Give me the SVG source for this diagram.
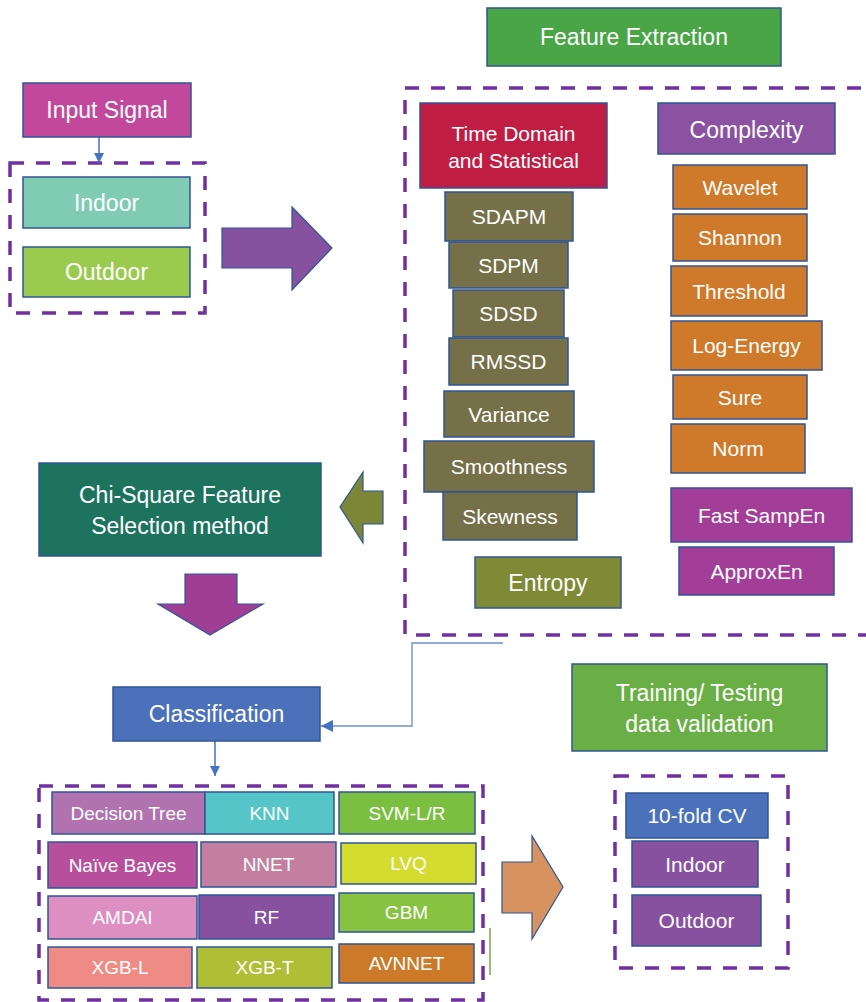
<svg xmlns="http://www.w3.org/2000/svg" width="866" height="1002" viewBox="0 0 866 1002">
<defs>
<style>
.b{stroke:#2f5597;stroke-width:1.5}
.d{fill:none;stroke:#7030a0;stroke-width:3.5;stroke-dasharray:14 12}
.t{font-family:"Liberation Sans",Arial,sans-serif;fill:#ffffff;text-anchor:middle;dominant-baseline:central}
.L{font-size:23px}
.M{font-size:21px}
.S{font-size:19px}
.ar{stroke:#2f5597;stroke-width:1.2}
</style>
<marker id="ah" viewBox="0 0 10 10" refX="10" refY="5" markerWidth="10" markerHeight="10" markerUnits="userSpaceOnUse" orient="auto">
<path d="M0,0 L10,5 L0,10 z" fill="#4472c4"/>
</marker>
<marker id="ah2" viewBox="0 0 10 10" refX="10" refY="5" markerWidth="12" markerHeight="12" markerUnits="userSpaceOnUse" orient="auto">
<path d="M0,0 L10,5 L0,10 z" fill="#4472c4"/>
</marker>
</defs>
<rect width="866" height="1002" fill="#ffffff"/>

<g id="containers">
<rect class="d" x="10" y="163" width="195" height="150"/>
<rect class="d" x="405" y="88" width="480" height="547"/>
<rect class="d" x="39" y="786" width="444" height="214"/>
<rect class="d" x="615" y="776" width="173" height="192"/>
</g>

<g id="connectors">
<line x1="99" y1="137" x2="99" y2="163" stroke="#4472c4" stroke-width="1.5" marker-end="url(#ah)"/>
<polyline points="503,643 412,643 412,726 321,726" fill="none" stroke="#8faadc" stroke-width="1.8" marker-end="url(#ah2)"/>
<line x1="215" y1="741" x2="215" y2="776" stroke="#4472c4" stroke-width="1.5" marker-end="url(#ah)"/>
<line x1="490" y1="928" x2="490" y2="975" stroke="#70ad47" stroke-width="1.5"/>
<polygon class="ar" points="222,228 292,228 292,207 332,248 292,290 292,268 222,268" fill="#86519f"/>
<polygon class="ar" points="383,491 363,491 363,472 340,507 363,543 363,524 383,524" fill="#7b8736"/>
<polygon class="ar" points="185,574 237,574 237,604 263,604 210,635 158,604 185,604" fill="#a03e96"/>
<polygon class="ar" points="502,862 532,862 532,836 563,887 532,939 532,913 502,913" fill="#d6925f"/>
</g>

<g id="input-signal"><rect class="b" x="23" y="83" width="168" height="54" fill="#c1489b"/><text class="t L" x="107" y="110">Input Signal</text></g>
<g id="indoor"><rect class="b" x="23" y="177" width="167" height="51" fill="#80ccb3"/><text class="t L" x="106.5" y="203">Indoor</text></g>
<g id="outdoor"><rect class="b" x="23" y="247" width="167" height="50" fill="#9bcb4e"/><text class="t L" x="106.5" y="272">Outdoor</text></g>

<g id="feature-extraction"><rect class="b" x="487" y="8" width="294" height="58" fill="#4aa547"/><text class="t L" x="634" y="37">Feature Extraction</text></g>

<g id="time-domain"><rect class="b" x="420" y="103" width="187" height="85" fill="#c01d44"/><text class="t M" x="513.5" y="133">Time Domain</text><text class="t M" x="513.5" y="160">and Statistical</text></g>
<g id="sdapm"><rect class="b" x="445" y="192" width="128" height="49" fill="#767048"/><text class="t M" x="509" y="216.5">SDAPM</text></g>
<g id="sdpm"><rect class="b" x="449" y="242" width="119" height="46" fill="#767048"/><text class="t M" x="508.5" y="265">SDPM</text></g>
<g id="sdsd"><rect class="b" x="453" y="290" width="111" height="47" fill="#767048"/><text class="t M" x="508.5" y="313.5">SDSD</text></g>
<g id="rmssd"><rect class="b" x="449" y="338" width="119" height="47" fill="#767048"/><text class="t M" x="508.5" y="361.5">RMSSD</text></g>
<g id="variance"><rect class="b" x="444" y="391" width="130" height="46" fill="#767048"/><text class="t M" x="509" y="414">Variance</text></g>
<g id="smoothness"><rect class="b" x="424" y="441" width="170" height="51" fill="#767048"/><text class="t M" x="509" y="466.5">Smoothness</text></g>
<g id="skewness"><rect class="b" x="443" y="492" width="134" height="48" fill="#767048"/><text class="t M" x="510" y="516">Skewness</text></g>
<g id="entropy"><rect class="b" x="475" y="557" width="146" height="51" fill="#7e8a36"/><text class="t L" x="548" y="582.5">Entropy</text></g>

<g id="complexity"><rect class="b" x="658" y="103" width="177" height="51" fill="#8b52a1"/><text class="t L" x="746.5" y="130">Complexity</text></g>
<g id="wavelet"><rect class="b" x="673" y="165" width="134" height="44" fill="#cf7a2a"/><text class="t M" x="740" y="187">Wavelet</text></g>
<g id="shannon"><rect class="b" x="673" y="214" width="134" height="47" fill="#cf7a2a"/><text class="t M" x="740" y="237.5">Shannon</text></g>
<g id="threshold"><rect class="b" x="671" y="266" width="136" height="50" fill="#cf7a2a"/><text class="t M" x="739" y="291">Threshold</text></g>
<g id="log-energy"><rect class="b" x="671" y="321" width="151" height="49" fill="#cf7a2a"/><text class="t M" x="746.5" y="345.5">Log-Energy</text></g>
<g id="sure"><rect class="b" x="673" y="375" width="134" height="44" fill="#cf7a2a"/><text class="t M" x="740" y="397">Sure</text></g>
<g id="norm"><rect class="b" x="671" y="424" width="134" height="49" fill="#cf7a2a"/><text class="t M" x="738" y="448.5">Norm</text></g>
<g id="fast-sampen"><rect class="b" x="671" y="488" width="181" height="54" fill="#a23e97"/><text class="t M" x="761.5" y="515">Fast SampEn</text></g>
<g id="approxen"><rect class="b" x="679" y="547" width="155" height="48" fill="#a23e97"/><text class="t M" x="756.5" y="571">ApproxEn</text></g>

<g id="chi-square"><rect class="b" x="39" y="463" width="282" height="93" fill="#1d735e"/><text class="t L" x="180" y="495">Chi-Square Feature</text><text class="t L" x="180" y="526">Selection method</text></g>

<g id="classification"><rect class="b" x="113" y="687" width="207" height="54" fill="#4b71bb"/><text class="t L" x="216.5" y="714">Classification</text></g>

<g id="decision-tree"><rect class="b" x="52" y="792" width="153" height="42" fill="#b073b0"/><text class="t S" x="128.5" y="813">Decision Tree</text></g>
<g id="knn"><rect class="b" x="205" y="792" width="129" height="42" fill="#56c5c7"/><text class="t S" x="269.5" y="813">KNN</text></g>
<g id="svm"><rect class="b" x="339" y="792" width="136" height="42" fill="#7bbf41"/><text class="t S" x="407" y="813">SVM-L/R</text></g>
<g id="naive-bayes"><rect class="b" x="48" y="842" width="149" height="46" fill="#b84f9d"/><text class="t S" x="122.5" y="865">Naïve Bayes</text></g>
<g id="nnet"><rect class="b" x="201" y="842" width="135" height="45" fill="#c37f9f"/><text class="t S" x="268.5" y="864.5">NNET</text></g>
<g id="lvq"><rect class="b" x="341" y="843" width="135" height="41" fill="#d3dc2f"/><text class="t S" x="408.5" y="863.5">LVQ</text></g>
<g id="amdai"><rect class="b" x="48" y="896" width="149" height="43" fill="#dd8fc2"/><text class="t S" x="122.5" y="917.5">AMDAI</text></g>
<g id="rf"><rect class="b" x="199" y="895" width="135" height="44" fill="#8751a0"/><text class="t S" x="266.5" y="917">RF</text></g>
<g id="gbm"><rect class="b" x="339" y="893" width="135" height="39" fill="#87c241"/><text class="t S" x="406.5" y="912.5">GBM</text></g>
<g id="xgb-l"><rect class="b" x="48" y="947" width="144" height="41" fill="#ef8b85"/><text class="t S" x="120" y="967.5">XGB-L</text></g>
<g id="xgb-t"><rect class="b" x="197" y="947" width="135" height="41" fill="#aebe35"/><text class="t S" x="264.5" y="967.5">XGB-T</text></g>
<g id="avnnet"><rect class="b" x="339" y="944" width="135" height="39" fill="#cc7a2a"/><text class="t S" x="406.5" y="963.5">AVNNET</text></g>

<g id="training"><rect class="b" x="572" y="664" width="255" height="87" fill="#6aaf45"/><text class="t L" x="699.5" y="693">Training/ Testing</text><text class="t L" x="699.5" y="724">data validation</text></g>
<g id="tenfold"><rect class="b" x="626" y="793" width="142" height="45" fill="#4b71bb"/><text class="t M" x="697" y="815.5">10-fold CV</text></g>
<g id="indoor2"><rect class="b" x="632" y="841" width="126" height="46" fill="#8751a0"/><text class="t M" x="695" y="864">Indoor</text></g>
<g id="outdoor2"><rect class="b" x="632" y="895" width="129" height="51" fill="#8751a0"/><text class="t M" x="696.5" y="920.5">Outdoor</text></g>
</svg>
